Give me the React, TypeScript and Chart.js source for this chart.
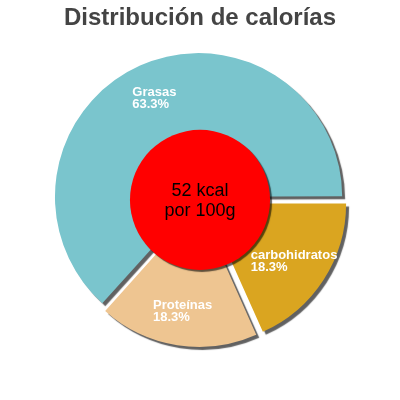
import React, { useEffect, useRef } from 'react';
import { Chart, registerables } from 'chart.js';

Chart.register(...registerables);

const title = 'Distribución de calorías';
const categories = ['carbohidratos', 'Proteínas', 'Grasas'];
const percents = [18.3, 18.3, 63.3];
const centerLines = ['52 kcal', 'por 100g'];

const sliceColors = ['#DAA520', '#EEC591', '#7AC5CD'];
const FONT = '"Liberation Sans", Arial, Helvetica, sans-serif';

const pieDecor = {
  id: 'pieDecor',
  beforeDatasetsDraw(chart: any) {
    const ctx = chart.ctx;
    ctx.save();
    // hard drop shadow under the slices
    ctx.shadowColor = 'rgba(0,0,0,0.62)';
    ctx.shadowOffsetX = 3;
    ctx.shadowOffsetY = 3;
    ctx.shadowBlur = 1;
  },
  afterDatasetsDraw(chart: any) {
    const ctx = chart.ctx;
    ctx.restore();
    const arcs = chart.getDatasetMeta(0).data;
    if (!arcs.length) return;
    const { x, y, outerRadius } = arcs[0].getProps(['x', 'y', 'outerRadius'], true);

    // slice labels
    ctx.save();
    ctx.font = `bold 13px ${FONT}`;
    ctx.fillStyle = '#ffffff';
    ctx.textAlign = 'left';
    ctx.textBaseline = 'alphabetic';
    arcs.forEach((arc: any, i: number) => {
      const { startAngle, endAngle } = arc.getProps(['startAngle', 'endAngle'], true);
      const mid = (startAngle + endAngle) / 2;
      const ax = x + Math.cos(mid) * outerRadius * 0.8;
      const ay = y + Math.sin(mid) * outerRadius * 0.8;
      const lines = [categories[i], percents[i].toFixed(1) + '%'];
      const w = Math.max(...lines.map((l) => ctx.measureText(l).width));
      lines.forEach((l, j) => ctx.fillText(l, ax - w / 2, ay - 2 + j * 12));
    });
    ctx.restore();

    // red centre disc
    ctx.save();
    ctx.shadowColor = 'rgba(0,0,0,0.6)';
    ctx.shadowOffsetX = 2;
    ctx.shadowOffsetY = 2;
    ctx.shadowBlur = 1;
    ctx.beginPath();
    ctx.arc(x, y, outerRadius * 0.5, 0, Math.PI * 2);
    ctx.fillStyle = '#FF0000';
    ctx.fill();
    ctx.restore();

    ctx.save();
    ctx.font = `18px ${FONT}`;
    ctx.fillStyle = '#000000';
    ctx.textAlign = 'center';
    ctx.textBaseline = 'alphabetic';
    centerLines.forEach((l, j) => ctx.fillText(l, x, y - 4 + j * 20));
    ctx.restore();
  },
};

const App: React.FC = () => {
  const canvasRef = useRef<HTMLCanvasElement>(null);

  useEffect(() => {
    if (!canvasRef.current) return;
    const chart = new Chart(canvasRef.current, {
      type: 'pie',
      data: {
        labels: categories,
        datasets: [
          {
            data: percents,
            backgroundColor: sliceColors,
            borderWidth: 0,
            // Chart.js scales offset by slice size; these give ~7px shift each
            offset: [26, 26, 14],
          },
        ],
      },
      options: {
        animation: false,
        responsive: true,
        maintainAspectRatio: false,
        rotation: 90,
        events: [],
        layout: { padding: { top: 0, bottom: 47, left: 0, right: 0 } },
        plugins: {
          legend: { display: false },
          tooltip: { enabled: false },
          title: {
            display: true,
            text: title,
            color: '#444444',
            font: { family: FONT, size: 24, weight: 'bold', lineHeight: 1.2 },
            padding: { top: 4, bottom: 14 },
          },
        },
      },
      plugins: [pieDecor],
    });
    return () => chart.destroy();
  }, []);

  return (
    <div style={{ position: 'absolute', left: 0, top: 0, width: 400, height: 400, background: '#fff' }}>
      <canvas ref={canvasRef} />
    </div>
  );
};

export default App;
